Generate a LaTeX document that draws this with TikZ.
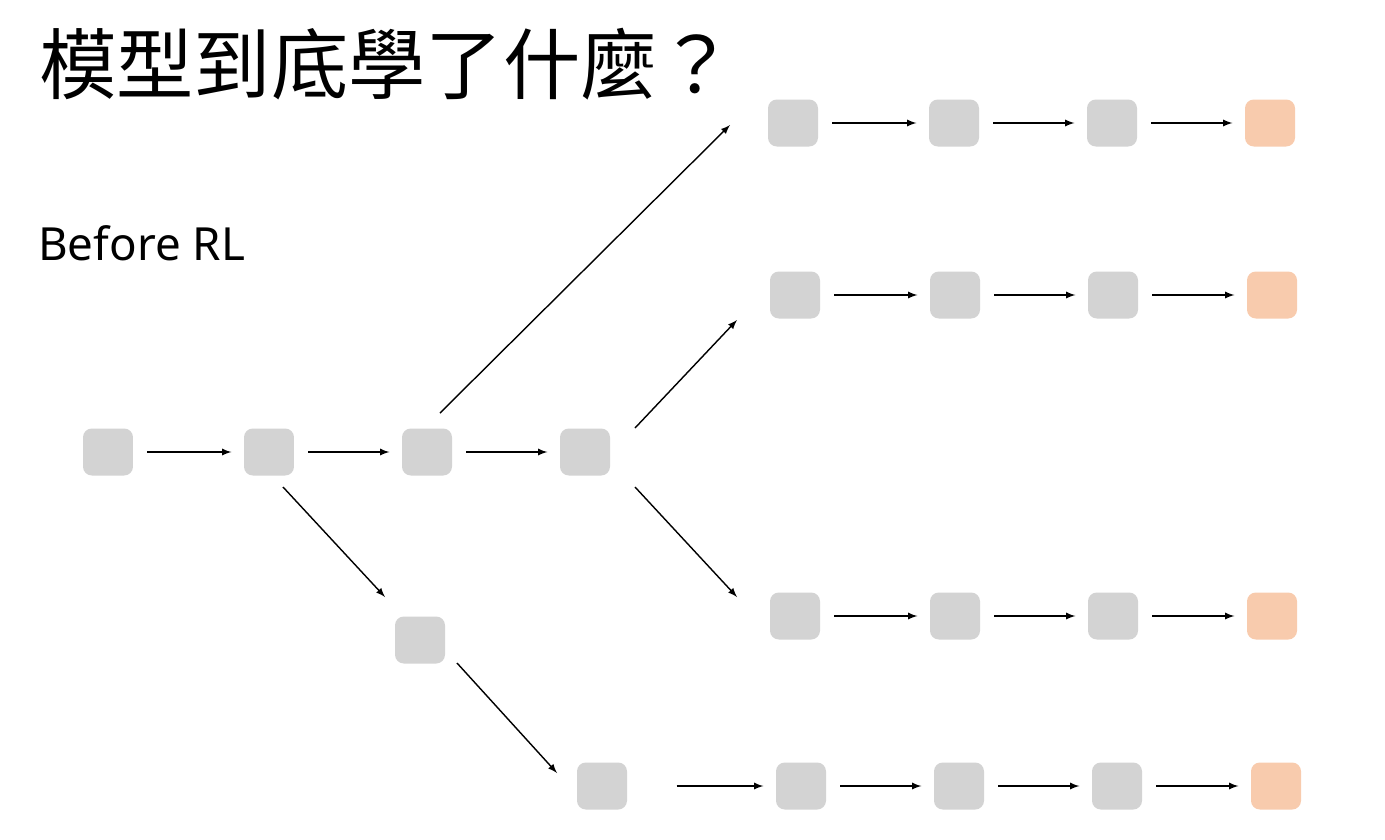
\documentclass[tikz,border=0pt]{standalone}
\usepackage{fontspec}
\setmainfont{Noto Sans}
\newfontfamily\cjk{Noto Sans CJK TC}
\usetikzlibrary{positioning}
\definecolor{stepgray}{HTML}{D3D3D3}
\definecolor{stepend}{HTML}{F8CBAD}

\begin{document}
\begin{tikzpicture}[
    x=0.02cm, y=-0.02cm,
    token/.style={rectangle, rounded corners=5pt, fill=stepgray, minimum width=1cm, minimum height=0.94cm, inner sep=0pt},
    final/.style={token, fill=stepend},
    link/.style={->, >=latex, thick, shorten <=8pt, shorten >=7pt},
    fork/.style={->, >=latex, thick}
]
\useasboundingbox (0,0) rectangle (1385,839);

% Title and label
\node[anchor=west, font=\cjk\fontsize{44}{48}\selectfont] (title) at (33,64) {模型到底學了什麼？};
\node[anchor=west, font=\fontsize{26}{29}\selectfont] (before) at (32,243) {Before RL};

% Main path
\node[token] (a1) at (108,452) {};
\node[token] (a2) at (269,452) {};
\node[token] (a3) at (427,452) {};
\node[token] (a4) at (585,452) {};
\node[token] (b1) at (420,640) {};

% Branches
\node[token] (t1) at (793,123) {};
\node[token] (t2) at (954,123) {};
\node[token] (t3) at (1112,123) {};
\node[final] (t4) at (1270,123) {};

\node[token] (u1) at (795,295) {};
\node[token] (u2) at (955,295) {};
\node[token] (u3) at (1113,295) {};
\node[final] (u4) at (1272,295) {};

\node[token] (v1) at (795,616) {};
\node[token] (v2) at (955,616) {};
\node[token] (v3) at (1113,616) {};
\node[final] (v4) at (1272,616) {};

\node[token] (w1) at (602,786) {};
\node[token] (w2) at (801,786) {};
\node[token] (w3) at (959,786) {};
\node[token] (w4) at (1117,786) {};
\node[final] (w5) at (1276,786) {};

% Edges
\draw[link] (a1) -- (a2);
\draw[link] (a2) -- (a3);
\draw[link] (a3) -- (a4);
\draw[fork] ([shift={(13,-39)}]a3.center) -- ([shift={(-63,2)}]t1.center);
\draw[fork] ([shift={(50,-24)}]a4.center) -- ([shift={(-58,25)}]u1.center);
\draw[fork] ([shift={(50,35)}]a4.center) -- ([shift={(-58,-19)}]v1.center);
\draw[fork] ([shift={(14,35)}]a2.center) -- ([shift={(-35,-43)}]b1.center);
\draw[fork] ([shift={(37,23)}]b1.center) -- ([shift={(-45,-13)}]w1.center);
\draw[link, shorten <=28pt] (w1) -- (w2);
\foreach \r in {t,u,v,w} {
  \draw[link] (\r2) -- (\r3);
  \draw[link] (\r3) -- (\r4);
}
\draw[link] (t1) -- (t2);
\draw[link] (u1) -- (u2);
\draw[link] (v1) -- (v2);
\draw[link] (w4) -- (w5);
\end{tikzpicture}
\end{document}
